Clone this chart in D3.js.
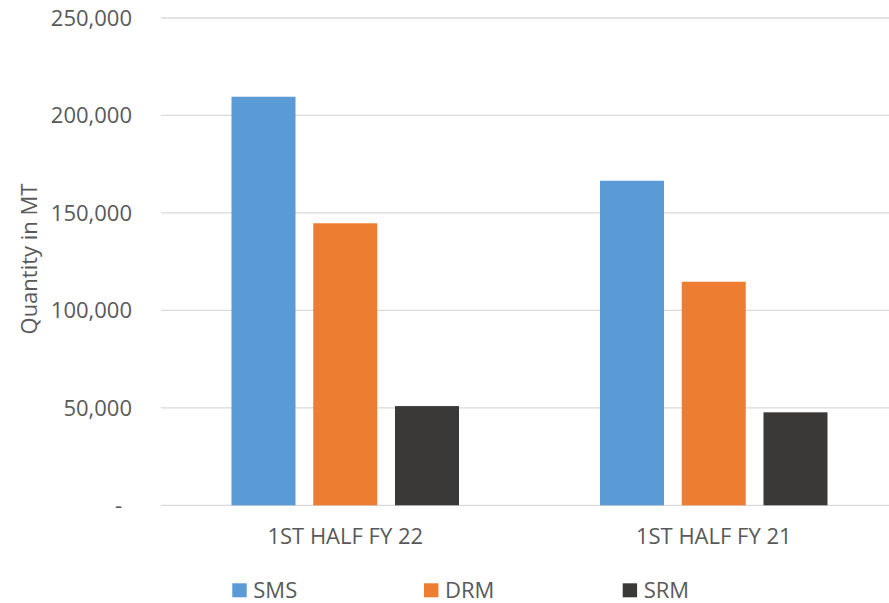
<!DOCTYPE html>
<html>
<head>
<meta charset="utf-8">
<script src="https://cdn.jsdelivr.net/npm/d3@7"></script>
<style>
  html, body { margin: 0; padding: 0; background: #ffffff; }
  svg { display: block; }
  text { font-family: "Open Sans", "Noto Sans", sans-serif; fill: #595959; }
</style>
</head>
<body>
<svg id="chart" width="889" height="603"></svg>
<script>
const categories = ["1ST HALF FY 22", "1ST HALF FY 21"];
const seriesNames = ["SMS", "DRM", "SRM"];
const smsValues = [209600, 166500];
const drmValues = [144700, 114700];
const srmValues = [50900, 47700];
const yTicks = [0, 50000, 100000, 150000, 200000, 250000];
const yTickLabels = ["-", "50,000", "100,000", "150,000", "200,000", "250,000"];
const yTitle = "Quantity in MT";

const colors = { SMS: "#5b9bd5", DRM: "#ed7d31", SRM: "#3a3937" };
const seriesValues = { SMS: smsValues, DRM: drmValues, SRM: srmValues };

const svg = d3.select("#chart");
const plot = { left: 161, right: 898, top: 18, bottom: 505.3 };

const y = d3.scaleLinear().domain([0, 250000]).range([plot.bottom, plot.top]);
const x0 = d3.scaleBand().domain(categories).range([plot.left, plot.right]).padding(0);
const inner = 70.5 / 368.5;
const x1 = d3.scaleBand().domain(seriesNames)
  .range([x0.bandwidth() * inner, x0.bandwidth() * (1 - inner)])
  .paddingInner(0.217).paddingOuter(0);

// gridlines
svg.append("g").selectAll("line").data(yTicks).join("line")
  .attr("x1", plot.left).attr("x2", plot.right)
  .attr("y1", d => y(d)).attr("y2", d => y(d))
  .attr("stroke", "#d9d9d9").attr("stroke-width", 1.3);

// y tick labels
const fs = 22;
svg.append("g").selectAll("text").data(yTicks).join("text")
  .attr("x", (d, i) => i === 0 ? 122 : 132)
  .attr("y", d => y(d))
  .attr("dy", "0.36em")
  .attr("text-anchor", "end")
  .style("font-size", fs + "px")
  .text((d, i) => yTickLabels[i]);

// bars
const groups = svg.append("g").selectAll("g").data(categories).join("g")
  .attr("transform", c => `translate(${x0(c)},0)`);
groups.selectAll("rect")
  .data((c, ci) => seriesNames.map(s => ({ s, v: seriesValues[s][ci] })))
  .join("rect")
  .attr("x", d => x1(d.s))
  .attr("width", x1.bandwidth())
  .attr("y", d => y(d.v))
  .attr("height", d => y(0) - y(d.v))
  .attr("fill", d => colors[d.s]);

// x labels
svg.append("g").selectAll("text").data(categories).join("text")
  .attr("x", c => x0(c) + x0.bandwidth() / 2)
  .attr("y", 544.3)
  .attr("text-anchor", "middle")
  .style("font-size", fs + "px")
  .text(c => c);

// y title
svg.append("text")
  .attr("transform", `translate(37.3, ${259}) rotate(-90)`)
  .attr("text-anchor", "middle")
  .style("font-size", fs + "px")
  .text(yTitle);

// legend
const legendX = [232.3, 424, 622.7];
const lg = svg.append("g").selectAll("g").data(seriesNames).join("g")
  .attr("transform", (s, i) => `translate(${legendX[i]},583.3)`);
lg.append("rect").attr("width", 14.4).attr("height", 14).attr("fill", s => colors[s]);
lg.append("text").attr("x", 21).attr("y", 14.9)
  .style("font-size", fs + "px").text(s => s);
</script>
</body>
</html>
